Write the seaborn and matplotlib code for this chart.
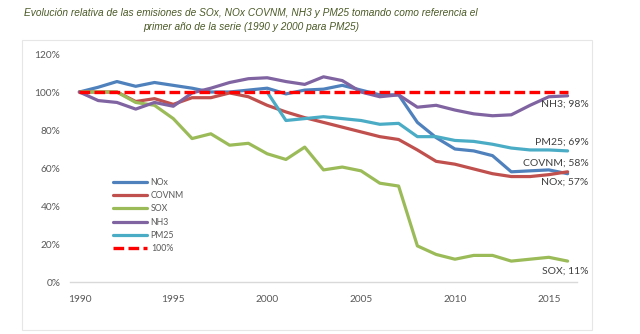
import numpy as np
import pandas as pd
import seaborn as sns
import matplotlib.pyplot as plt
from matplotlib.patches import Rectangle

# Índices de emisiones (% respecto al primer año de la serie)
years = list(range(1990, 2017))
nox = [100, 102.5, 105.5, 103, 105, 103.5, 102, 100, 100, 101, 102, 99, 101,
       101.5, 103.5, 101, 98.5, 98.5, 84, 76, 70, 69, 66.5, 58, 58.5, 59, 57]
covnm = [100, 100, 100, 95, 96.5, 93.5, 97, 97, 99.5, 97.5, 93, 89.5, 86.5,
         84, 81.5, 79, 76.5, 75, 69.5, 63.5, 62, 59.5, 57, 55.5, 55.5, 56.5, 58]
sox = [100, 100, 100, 94.5, 93, 86, 75.5, 78, 72, 73, 67.5, 64.5, 71, 59,
       60.5, 58.5, 52, 50.5, 19, 14.5, 12, 14, 14, 11, 12, 13, 11]
nh3 = [100, 95.5, 94.5, 91, 94.5, 92.5, 99.5, 102, 105, 107, 107.5, 105.5,
       104, 108, 106, 100, 97.5, 98.5, 92, 93, 90.5, 88.5, 87.5, 88, 93, 97.5, 98]
pm25_years = list(range(2000, 2017))
pm25 = [100, 85, 86, 87, 86, 85, 83, 83.5, 76.5, 76.5, 74.5, 74, 72.5, 70.5,
        69.5, 69.5, 69]
ref = [100] * len(years)

series_names = ["NOx", "COVNM", "SOX", "NH3", "PM25"]
colors = ["#4F81BD", "#C0504D", "#9BBB59", "#8064A2", "#4BACC6"]

frames = []
for name, vals in zip(series_names, [nox, covnm, sox, nh3]):
    frames.append(pd.DataFrame({"year": years, "valor": vals, "serie": name}))
frames.append(pd.DataFrame({"year": pm25_years, "valor": pm25, "serie": "PM25"}))
df = pd.concat(frames, ignore_index=True)

sns.set_theme(style="white")
plt.rcParams["font.family"] = ["Lato", "DejaVu Sans"]

fig = plt.figure(figsize=(6.4, 3.34), dpi=100)
ax = fig.add_axes([70 / 640, 1 - 282 / 334, 507 / 640, 228 / 334])

sns.lineplot(data=df, x="year", y="valor", hue="serie",
             hue_order=series_names, palette=colors, linewidth=2.3,
             ax=ax, legend=False)
sns.lineplot(x=years, y=ref, color="#FF0000", linewidth=2.4,
             dashes=False, ax=ax)
ax.lines[-1].set_dashes((3.2, 1.3))

ax.set_xlim(1989.5, 2016.5)
ax.set_ylim(0, 120)
ax.set_xticks([1990, 1995, 2000, 2005, 2010, 2015])
ax.set_yticks(range(0, 121, 20))
ax.set_yticklabels([f"{v}%" for v in range(0, 121, 20)])
ax.set_xlabel("")
ax.set_ylabel("")
ax.tick_params(axis="both", labelsize=7.3, colors="#595959", length=0)
ax.tick_params(axis="x", pad=9)
ax.tick_params(axis="y", pad=7)
for side in ["top", "right", "left"]:
    ax.spines[side].set_visible(False)
ax.spines["bottom"].set_color("#D9D9D9")
ax.spines["bottom"].set_linewidth(1)

# Leyenda
handles = [plt.Line2D([], [], color=c, lw=2.3) for c in colors]
handles.append(plt.Line2D([], [], color="#FF0000", lw=2.4, dashes=(3.2, 1.3)))
labels = series_names + ["100%"]
leg = ax.legend(handles, labels, loc="upper left",
                bbox_to_anchor=(0.085, 0.455), frameon=False, fontsize=6.3,
                handlelength=3.9, handletextpad=0.4, labelspacing=0.47,
                borderpad=0, borderaxespad=0)
for t in leg.get_texts():
    t.set_color("#595959")

# Etiquetas del último año
last = {"NOx": nox[-1], "COVNM": covnm[-1], "SOX": sox[-1],
        "NH3": nh3[-1], "PM25": pm25[-1]}
label_offsets = {"NH3": -4.5, "PM25": 4.5, "COVNM": 4.5, "NOx": -4.5, "SOX": -5.5}
for name in series_names:
    v = last[name]
    ax.text(2017.1, v + label_offsets[name], f"{name}; {v:.0f}%",
            ha="right", va="center", fontsize=7.5, color="#404040",
            clip_on=False)

# Marco del gráfico
fig.patches.append(Rectangle((22 / 640, 1 - 330 / 334), 570 / 640, 290 / 334,
                             transform=fig.transFigure, fill=False,
                             edgecolor="#E6E6E6", linewidth=0.8))

title_kw = dict(ha="center", va="center", fontsize=7.3, style="italic",
                color="#4A5A26", family=["Liberation Sans", "DejaVu Sans"])
fig.text(251 / 640, 1 - 13 / 334,
         "Evolución relativa de las emisiones de SOx, NOx COVNM, NH3 y PM25 tomando como referencia el",
         **title_kw)
fig.text(251 / 640, 1 - 27 / 334,
         "primer año de la serie (1990 y 2000 para PM25)", **title_kw)

fig.savefig("out.png", dpi=100)
